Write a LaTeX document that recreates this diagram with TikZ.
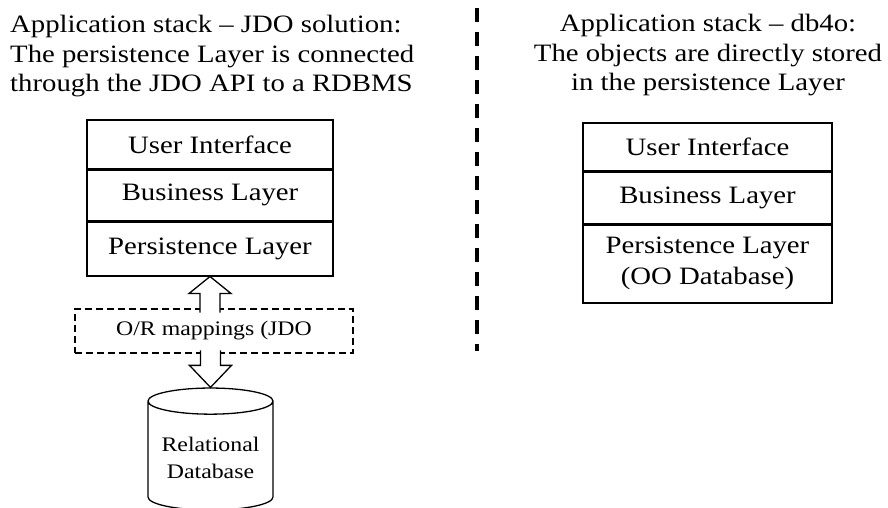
\documentclass[tikz,border=0pt]{standalone}
\usepackage{fontspec}
\setmainfont{Liberation Serif}[FakeStretch=1.15]
\usetikzlibrary{positioning,calc,shapes.geometric}

\tikzset{
  layer/.style = {draw, line width=1.4pt, minimum width=246pt, inner sep=0pt,
                  font=\fontsize{25}{31}\selectfont},
  heading/.style = {inner sep=0pt, font=\fontsize{25}{29.5}\selectfont},
  mapping/.style = {draw, line width=1.1pt, dash pattern=on 7pt off 4pt, inner sep=0pt,
                    font=\fontsize{20.7}{24}\selectfont},
  blockarrow/.style = {draw, line width=1.3pt, fill=white, line join=miter},
  database/.style = {draw, cylinder, shape border rotate=90, aspect=0.25, line width=1.3pt,
                     align=center, font=\fontsize{20.7}{27}\selectfont},
}

\begin{document}
\begin{tikzpicture}[x=1pt,y=-1pt]
\useasboundingbox (0,0) rectangle (888,508);

% headings
\node[heading, align=left, anchor=base west] (jdohead) at (10,92)
  {Application stack -- JDO solution:\\The persistence Layer is connected\\through the JDO API to a RDBMS};
\node[heading, align=center, anchor=base] (dbhead) at (708,91)
  {Application stack -- db4o:\\The objects are directly stored\\in the persistence Layer};

% divider
\coordinate (divtop) at (477,8);
\coordinate (divbot) at (477,351);
\draw[line width=3.5pt, dash pattern=on 14pt off 10pt] (divtop) -- (divbot);

% JDO stack
\node[layer, minimum height=49pt] (ui) at (210,144.5) {User Interface};
\node[layer, minimum height=50pt, below=0pt of ui] (bl) {Business Layer};
\node[layer, minimum height=54pt, below=0pt of bl] (pl) {Persistence Layer};

\node[mapping, minimum width=278pt, minimum height=44pt] (or) at (214,331) {O/R mappings (JDO};
\node[database, minimum width=125pt, minimum height=122pt] (db) at (210.5,458) {Relational\\Database};

\draw[blockarrow] ($(pl.south)+(10,36)$) -- ++(0,-19) -- ++(11,0) -- (pl.south)
  -- ++(-21,17) -- ++(11,0) -- ++(0,19);
\draw[blockarrow] ($(db.north)+(10,-37)$) -- ++(0,15) -- ++(11,0) -- (db.north)
  -- ++(-21,-22) -- ++(11,0) -- ++(0,-15);

% db4o stack
\node[layer, minimum width=249pt, minimum height=48pt] (ui2) at (707.5,147) {User Interface};
\node[layer, minimum width=249pt, minimum height=51pt, below=0pt of ui2] (bl2) {Business Layer};
\node[layer, minimum width=249pt, minimum height=78pt, align=center, below=0pt of bl2] (pl2)
  {Persistence Layer\\(OO Database)};
\end{tikzpicture}
\end{document}
